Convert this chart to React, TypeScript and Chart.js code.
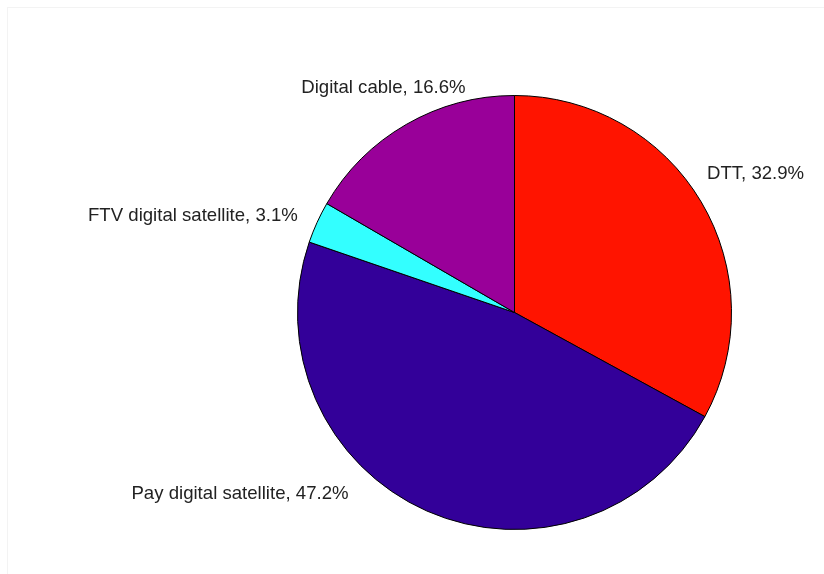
import React, { useEffect, useRef } from "react";
import { Chart, registerables } from "chart.js";

Chart.register(...registerables);

const categories = ["DTT", "Pay digital satellite", "FTV digital satellite", "Digital cable"];
const shares = [32.9, 47.2, 3.1, 16.6];
const sliceColors = ["#FF1400", "#330099", "#33FFFF", "#990099"];

// label anchor (center x, baseline y) expressed relative to pie center in units of radius
const labelOffsets = [
  [1.111, -0.615],
  [-1.265, 0.859],
  [-1.482, -0.422],
  [-0.604, -1.012],
];

const labelPlugin = {
  id: "pieLabels",
  afterDatasetsDraw(chart: any) {
    const ctx = chart.ctx;
    const meta = chart.getDatasetMeta(0);
    ctx.save();
    ctx.font = '18.6px "Liberation Sans", Arial, sans-serif';
    ctx.fillStyle = "#222";
    ctx.textAlign = "center";
    ctx.textBaseline = "alphabetic";
    meta.data.forEach((arc: any, i: number) => {
      const { x, y, outerRadius } = arc.getProps(["x", "y", "outerRadius"], true);
      const [fx, fy] = labelOffsets[i];
      const text = `${categories[i]}, ${shares[i].toFixed(1)}%`;
      ctx.fillText(text, x + fx * outerRadius, y + fy * outerRadius);
    });
    ctx.restore();
  },
};

export default function App() {
  const ref = useRef<HTMLCanvasElement>(null);
  useEffect(() => {
    if (!ref.current) return;
    const chart = new Chart(ref.current, {
      type: "pie",
      data: {
        labels: categories,
        datasets: [
          {
            data: shares,
            backgroundColor: sliceColors,
            borderColor: "#000",
            borderWidth: 1,
          },
        ],
      },
      options: {
        animation: false,
        responsive: false,
        maintainAspectRatio: false,
        radius: 217,
        layout: { padding: { left: 297.5, right: 92.5, top: 95.5, bottom: 44.5 } },
        plugins: {
          legend: { display: false },
          tooltip: { enabled: false },
        },
      } as any,
      plugins: [labelPlugin],
    });
    return () => chart.destroy();
  }, []);
  return (
    <div style={{ position: "fixed", left: 0, top: 0, width: 824, height: 574, background: "#fff" }}>
      <div
        style={{
          position: "absolute",
          left: 7,
          top: 7,
          width: 830,
          height: 580,
          borderTop: "1px solid #f3f3f3",
          borderLeft: "1px solid #f3f3f3",
        }}
      />
      <canvas ref={ref} width={824} height={574} style={{ position: "absolute", left: 0, top: 0 }} />
    </div>
  );
}
